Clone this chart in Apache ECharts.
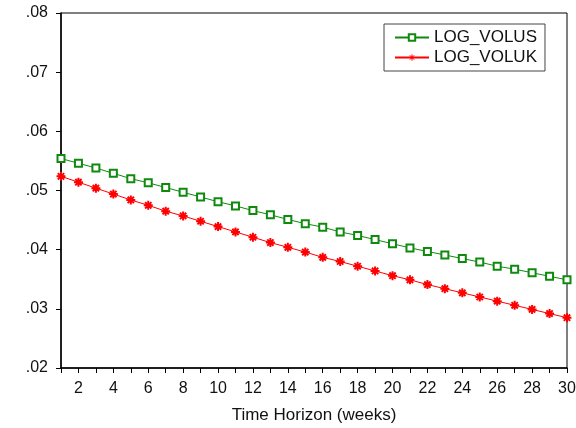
<!DOCTYPE html>
<html>
<head>
<meta charset="utf-8">
<script src="https://cdn.jsdelivr.net/npm/echarts@6/dist/echarts.min.js"></script>
<style>
  html, body { margin: 0; padding: 0; background: #fff; }
  #chart { width: 576px; height: 428px; }
</style>
</head>
<body>
<div id="chart"></div>
<script>
// weeks 1..30
var weeks = [];
for (var w = 1; w <= 30; w++) { weeks.push(String(w)); }

var logVolus = [0.0554, 0.0546, 0.0538, 0.0529, 0.0520, 0.0513, 0.0505, 0.0497, 0.0489, 0.0481,
                0.0474, 0.0466, 0.0459, 0.0451, 0.0444, 0.0438, 0.0430, 0.0424, 0.0417, 0.0410,
                0.0403, 0.0397, 0.0391, 0.0385, 0.0379, 0.0372, 0.0367, 0.0361, 0.0355, 0.0349];
var logVoluk = [0.0524, 0.0514, 0.0504, 0.0494, 0.0484, 0.0475, 0.0465, 0.0457, 0.0448, 0.0439,
                0.0430, 0.0421, 0.0412, 0.0404, 0.0396, 0.0387, 0.0380, 0.0372, 0.0364, 0.0356,
                0.0349, 0.0341, 0.0334, 0.0327, 0.0320, 0.0313, 0.0306, 0.0299, 0.0292, 0.0285];

var asterisk = 'path://M5,0L5,10M0,5L10,5M1.5,1.5L8.5,8.5M8.5,1.5L1.5,8.5';
var font = 'Liberation Sans';
var green = '#0f8a0f';
var red = '#ff0000';

var chart = echarts.init(document.getElementById('chart'));
chart.setOption({
    animation: false,
    textStyle: { fontFamily: font, color: '#111' },
    grid: {
        left: 61, right: 9, top: 13, bottom: 60,
        outerBoundsMode: 'none',
        show: true, borderColor: '#000', borderWidth: 1
    },
    legend: {
        orient: 'vertical',
        left: 384, top: 24,
        borderColor: '#444', borderWidth: 1,
        padding: [5, 8, 5, 10],
        itemGap: 3,
        itemWidth: 34, itemHeight: 8,
        itemStyle: { borderWidth: 1 },
        textStyle: { fontSize: 17, color: '#111', fontFamily: font },
        data: ['LOG_VOLUS', 'LOG_VOLUK']
    },
    xAxis: {
        type: 'category',
        data: weeks,
        boundaryGap: false,
        name: 'Time Horizon (weeks)',
        nameLocation: 'middle',
        nameGap: 39,
        nameTextStyle: { fontSize: 17, color: '#111' },
        axisLine: { lineStyle: { color: '#000', width: 1.5 } },
        axisTick: { interval: 0, length: 5, lineStyle: { color: '#000' } },
        axisLabel: {
            interval: function (i) { return i % 2 === 1; },
            fontSize: 16, color: '#111', margin: 13
        },
        splitLine: { show: false }
    },
    yAxis: {
        type: 'value',
        min: 0.02, max: 0.08, interval: 0.01,
        axisLine: { show: true, lineStyle: { color: '#000', width: 1.5 } },
        axisTick: { show: true, length: 5, lineStyle: { color: '#000' } },
        axisLabel: {
            fontSize: 16, color: '#111', margin: 13,
            formatter: function (v) { return v.toFixed(2).replace(/^0/, ''); }
        },
        splitLine: { show: false }
    },
    series: [
        {
            name: 'LOG_VOLUS',
            type: 'line',
            data: logVolus,
            color: green,
            symbol: 'emptyRect',
            symbolSize: 7,
            showAllSymbol: true,
            lineStyle: { color: green, width: 1 },
            itemStyle: { color: green, borderColor: green, borderWidth: 1.3 }
        },
        {
            name: 'LOG_VOLUK',
            type: 'line',
            data: logVoluk,
            color: red,
            symbol: asterisk,
            symbolSize: 9,
            showAllSymbol: true,
            lineStyle: { color: red, width: 1 },
            itemStyle: { color: red, borderColor: red, borderWidth: 2 }
        }
    ]
});
</script>
</body>
</html>
